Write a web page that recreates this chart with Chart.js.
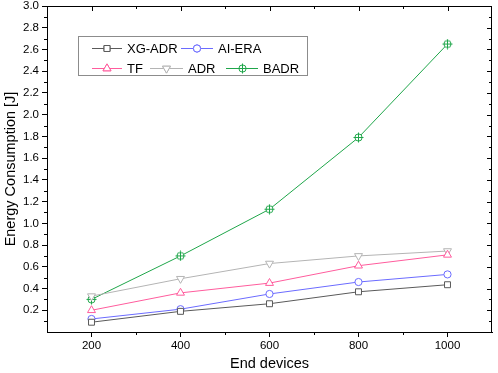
<!DOCTYPE html>
<html>
<head>
<meta charset="utf-8">
<script src="https://cdn.jsdelivr.net/npm/chart.js@4/dist/chart.umd.min.js"></script>
<style>
  html, body { margin: 0; padding: 0; background: #fff; }
  #wrap { width: 498px; height: 373px; }
</style>
</head>
<body>
<div id="wrap"><canvas id="energyChart"></canvas></div>
<script>
const endDevices = [200, 400, 600, 800, 1000];
const xgAdr = [0.09, 0.19, 0.26, 0.37, 0.435];
const aiEra = [0.12, 0.21, 0.35, 0.46, 0.53];
const tf = [0.20, 0.36, 0.45, 0.61, 0.71];
const adr = [0.33, 0.49, 0.63, 0.70, 0.745];
const badr = [0.30, 0.70, 1.13, 1.79, 2.65];

const xTicks = [200, 400, 600, 800, 1000];
const xMinorTicks = [300, 500, 700, 900];
const yTicks = [0.2, 0.4, 0.6, 0.8, 1.0, 1.2, 1.4, 1.6, 1.8, 2.0, 2.2, 2.4, 2.6, 2.8, 3.0];
const yMinorTicks = [0.1, 0.3, 0.5, 0.7, 0.9, 1.1, 1.3, 1.5, 1.7, 1.9, 2.1, 2.3, 2.5, 2.7, 2.9];

const FONT = "'Liberation Sans', Arial, sans-serif";

// circle with a cross through it, for BADR
function crossCircle(color) {
  const c = document.createElement("canvas");
  c.width = 11;
  c.height = 11;
  const g = c.getContext("2d");
  g.strokeStyle = color;
  g.lineWidth = 1;
  g.fillStyle = "#fff";
  g.beginPath();
  g.arc(5.5, 5.5, 3.6, 0, Math.PI * 2);
  g.fill();
  g.stroke();
  g.beginPath();
  g.moveTo(5.5, 0.5); g.lineTo(5.5, 10.5);
  g.moveTo(0.5, 5.5); g.lineTo(10.5, 5.5);
  g.stroke();
  return c;
}

const series = [
  { label: "XG-ADR", data: xgAdr, color: "#5a5a5a", style: "rect", rot: 0, r: 4.2 },
  { label: "AI-ERA", data: aiEra, color: "#6b6bff", style: "circle", rot: 0, r: 3.6 },
  { label: "TF", data: tf, color: "#ff5c9d", style: "triangle", rot: 0, r: 4.6 },
  { label: "ADR", data: adr, color: "#b4b4b4", style: "triangle", rot: 180, r: 4.6 },
  { label: "BADR", data: badr, color: "#1fa64a", style: null, rot: 0, r: 5 },
];
series[4].style = crossCircle(series[4].color);

// legend entry positions (pixels)
const legendBox = { x: 78.5, y: 36.5, w: 229, h: 39 };
const legendSlots = [
  { x: 92, y: 48, len: 30 },
  { x: 181, y: 48, len: 32 },
  { x: 92, y: 68, len: 30 },
  { x: 150, y: 68, len: 33 },
  { x: 226, y: 68, len: 32 },
];

function drawMarker(ctx, s, x, y) {
  ctx.save();
  ctx.strokeStyle = s.color;
  ctx.fillStyle = "#fff";
  ctx.lineWidth = 1;
  if (s.style instanceof HTMLCanvasElement) {
    ctx.drawImage(s.style, Math.round(x - s.style.width / 2), Math.round(y - s.style.height / 2));
  } else {
    Chart.helpers.drawPoint(ctx, {
      pointStyle: s.style, rotation: s.rot, radius: s.r, borderWidth: 1
    }, x, y);
    ctx.fill();
    ctx.stroke();
  }
  ctx.restore();
}

const axisDecor = {
  id: "axisDecor",
  afterDraw(chart) {
    const ctx = chart.ctx;
    const { left, right, top, bottom } = chart.chartArea;
    const xs = chart.scales.x;
    const ys = chart.scales.y;
    ctx.save();
    ctx.strokeStyle = "#000";
    ctx.lineWidth = 1;
    ctx.beginPath();
    // frame top / right
    ctx.moveTo(left, top + 0.5); ctx.lineTo(right, top + 0.5);
    ctx.moveTo(right - 0.5, top); ctx.lineTo(right - 0.5, bottom);
    xMinorTicks.forEach(v => {
      const px = Math.round(xs.getPixelForValue(v)) + 0.5;
      ctx.moveTo(px, bottom); ctx.lineTo(px, bottom + 3);
      ctx.moveTo(px, top); ctx.lineTo(px, top + 3);
    });
    xTicks.forEach(v => {
      const px = Math.round(xs.getPixelForValue(v)) + 0.5;
      ctx.moveTo(px, top); ctx.lineTo(px, top + 5);
    });
    yMinorTicks.forEach(v => {
      const py = Math.round(ys.getPixelForValue(v)) + 0.5;
      ctx.moveTo(left, py); ctx.lineTo(left - 3, py);
      ctx.moveTo(right, py); ctx.lineTo(right - 3, py);
    });
    yTicks.forEach(v => {
      const py = Math.round(ys.getPixelForValue(v)) + 0.5;
      ctx.moveTo(right, py); ctx.lineTo(right - 5, py);
    });
    ctx.stroke();

    // legend
    ctx.fillStyle = "#fff";
    ctx.fillRect(legendBox.x, legendBox.y, legendBox.w, legendBox.h);
    ctx.strokeStyle = "#8c8c8c";
    ctx.strokeRect(legendBox.x, legendBox.y, legendBox.w, legendBox.h);
    ctx.font = "13px " + FONT;
    ctx.textBaseline = "middle";
    ctx.textAlign = "left";
    series.forEach((s, i) => {
      const slot = legendSlots[i];
      ctx.strokeStyle = s.color;
      ctx.beginPath();
      ctx.moveTo(slot.x, slot.y + 0.5);
      ctx.lineTo(slot.x + slot.len, slot.y + 0.5);
      ctx.stroke();
      drawMarker(ctx, s, slot.x + slot.len / 2, slot.y + 0.5);
      ctx.fillStyle = "#000";
      ctx.fillText(s.label, slot.x + slot.len + 5, slot.y + 1);
    });
    ctx.restore();
  }
};

new Chart(document.getElementById("energyChart"), {
  type: "line",
  data: {
    datasets: series.map(s => ({
      label: s.label,
      data: endDevices.map((x, i) => ({ x: x, y: s.data[i] })),
      borderColor: s.color,
      backgroundColor: "#fff",
      borderWidth: 1,
      pointStyle: s.style,
      pointRotation: s.rot,
      pointRadius: s.r,
      pointBorderWidth: 1,
      pointBorderColor: s.color,
      pointBackgroundColor: "#fff",
      tension: 0,
    })),
  },
  options: {
    responsive: true,
    maintainAspectRatio: false,
    devicePixelRatio: 1,
    animation: false,
    layout: { padding: { top: 5, right: 1, left: 0, bottom: 0 } },
    plugins: { legend: { display: false }, tooltip: { enabled: false } },
    scales: {
      x: {
        type: "linear",
        min: 100,
        max: 1100,
        afterBuildTicks: s => { s.ticks = xTicks.map(v => ({ value: v })); },
        afterFit: s => { s.height = 41; s.paddingLeft = 0; s.paddingRight = 0; },
        grid: { drawOnChartArea: false, tickLength: 5, color: "#000", tickWidth: 1 },
        border: { display: true, color: "#000", width: 1 },
        ticks: {
          color: "#000", padding: 2, maxRotation: 0, font: { family: FONT, size: 11.5 },
          callback: v => String(v)
        },
        title: {
          display: true, text: "End devices", color: "#000",
          font: { family: FONT, size: 14.5 }, padding: { top: 3, bottom: 0 }
        },
      },
      y: {
        min: 0,
        max: 3,
        afterBuildTicks: s => { s.ticks = yTicks.map(v => ({ value: v })); },
        afterFit: s => { s.width = 47; s.paddingTop = 0; s.paddingBottom = 0; },
        grid: { drawOnChartArea: false, tickLength: 5, color: "#000", tickWidth: 1 },
        border: { display: true, color: "#000", width: 1 },
        ticks: {
          color: "#000", padding: 3, font: { family: FONT, size: 11.5 },
          callback: v => v.toFixed(1)
        },
        title: {
          display: true, text: "Energy Consumption [J]", color: "#000",
          font: { family: FONT, size: 14.5 }, padding: { top: 2, bottom: 0 }
        },
      },
    },
  },
  plugins: [axisDecor],
});
</script>
</body>
</html>
